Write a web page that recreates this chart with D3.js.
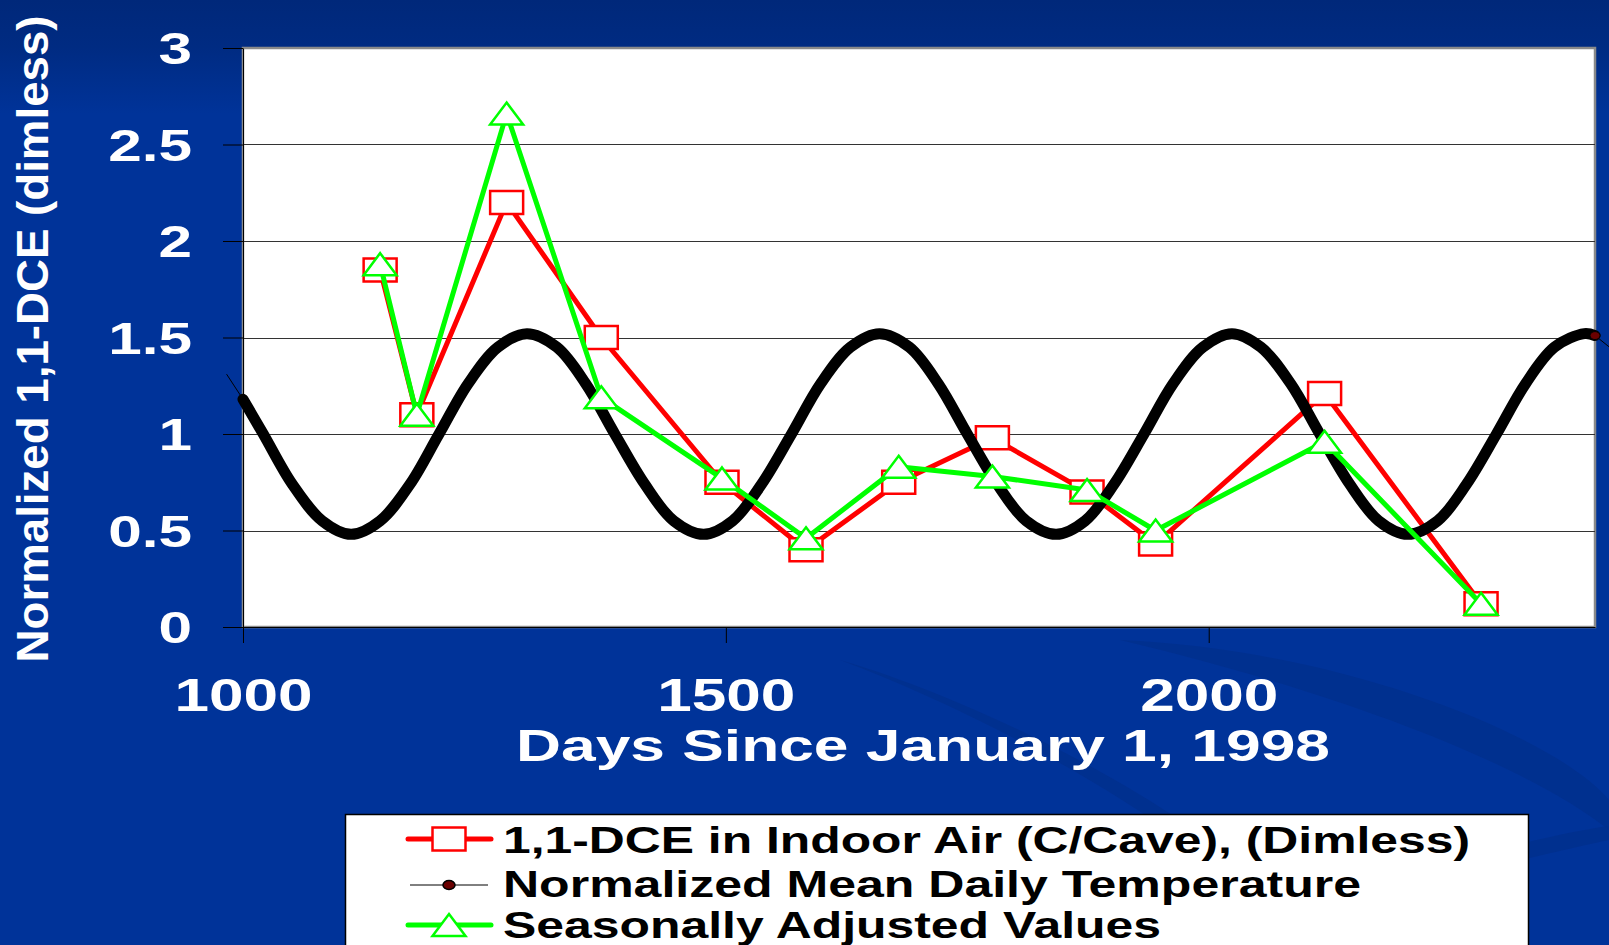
<!DOCTYPE html>
<html>
<head>
<meta charset="utf-8">
<script src="https://cdn.jsdelivr.net/npm/d3@7"></script>
<style>
  html, body { margin: 0; padding: 0; background: #003399; overflow: hidden; }
  svg { display: block; }
  text { font-family: "Liberation Sans", Arial, sans-serif; font-weight: bold; }
</style>
</head>
<body>
<svg id="canvas"></svg>
<script>
// sample days (since Jan 1, 1998)
let sampleDays = [1142, 1180, 1273, 1371, 1496, 1583, 1679, 1776, 1874, 1945, 2120, 2282]
let dceValues = [1.85, 1.10, 2.20, 1.50, 0.75, 0.40, 0.75, 0.98, 0.70, 0.43, 1.21, 0.12]
let adjustedValues = [1.88, 1.10, 2.66, 1.19, 0.77, 0.46, 0.83, 0.78, 0.71, 0.50, 0.96, 0.12]

// normalized mean daily temperature
let tempDays = [983, 1000, 1021, 1051, 1082, 1112, 1142, 1173, 1203, 1233, 1264, 1294, 1325, 1355, 1385,
  1416, 1446, 1477, 1507, 1537, 1568, 1598, 1629, 1659, 1690, 1720, 1750, 1781, 1811, 1842, 1872,
  1902, 1933, 1963, 1994, 2024, 2054, 2085, 2115, 2146, 2176, 2206, 2237, 2267, 2298, 2328, 2358,
  2389, 2400, 2430]
let tempValues = [1.31, 1.18, 1.00, 0.74, 0.55, 0.48, 0.55, 0.74, 1.00, 1.26, 1.45, 1.52, 1.45, 1.26, 1.00,
  0.74, 0.55, 0.48, 0.55, 0.74, 1.00, 1.26, 1.45, 1.52, 1.45, 1.26, 1.00, 0.74, 0.55, 0.48, 0.55,
  0.74, 1.00, 1.26, 1.45, 1.52, 1.45, 1.26, 1.00, 0.74, 0.55, 0.48, 0.55, 0.74, 1.00, 1.26, 1.45,
  1.52, 1.51, 1.39]

let xTicks = [1000, 1500, 2000]
let yTicks = [0, 0.5, 1, 1.5, 2, 2.5, 3]
let legendLabels = ["1,1-DCE in Indoor Air (C/Cave), (Dimless)", "Normalized Mean Daily Temperature", "Seasonally Adjusted Values"]

let width = 1609
let height = 945
let plotLeft = 243, plotRight = 1595, plotTop = 48, plotBottom = 627

let canvas = d3.select("#canvas").attr("width", width).attr("height", height)

let defs = canvas.append("defs")
let grad = defs.append("linearGradient").attr("id", "bg").attr("x1", 0).attr("y1", 0).attr("x2", 0).attr("y2", 1)
grad.append("stop").attr("offset", "0%").attr("stop-color", "#00287a")
grad.append("stop").attr("offset", "5%").attr("stop-color", "#002b82")
grad.append("stop").attr("offset", "12%").attr("stop-color", "#003399")
grad.append("stop").attr("offset", "100%").attr("stop-color", "#003399")

canvas.append("rect").attr("width", width).attr("height", height).attr("fill", "url(#bg)")

// faint swooshes in the background
canvas.append("path")
  .attr("d", "M1120,640 C1350,650 1560,740 1609,800 L1609,830 C1520,760 1330,690 1120,640 Z")
  .attr("fill", "#002f8c").attr("opacity", 0.8)
canvas.append("path")
  .attr("d", "M840,660 C980,700 1250,830 1310,945 L1290,945 C1220,840 1000,720 840,660 Z")
  .attr("fill", "#002f8c").attr("opacity", 0.8)
canvas.append("path")
  .attr("d", "M1460,860 C1530,840 1580,830 1609,826 L1609,840 C1580,846 1520,860 1460,875 Z")
  .attr("fill", "#002f8c").attr("opacity", 0.8)

let xScale = d3.scaleLinear().domain([1000, 2400]).range([plotLeft, plotRight])
let yScale = d3.scaleLinear().domain([0, 3]).range([plotBottom, plotTop])

// plot area
canvas.append("rect")
  .attr("x", plotLeft).attr("y", plotTop)
  .attr("width", plotRight - plotLeft).attr("height", plotBottom - plotTop)
  .attr("fill", "white").attr("stroke", "#8a8a8a").attr("stroke-width", 2.5)

// gridlines
canvas.append("g").selectAll("line")
  .data(yTicks.filter(d => d > 0 && d < 3))
  .enter().append("line")
  .attr("x1", plotLeft).attr("x2", plotRight)
  .attr("y1", d => Math.round(yScale(d)) + 0.5).attr("y2", d => Math.round(yScale(d)) + 0.5)
  .attr("stroke", "#333").attr("stroke-width", 1)

// axes
let yAxis = d3.axisLeft(yScale).tickValues(yTicks).tickSize(20).tickSizeOuter(0).tickFormat(d => String(d))
let yg = canvas.append("g").attr("transform", "translate(" + plotLeft + ",0)").call(yAxis)
yg.select(".domain").attr("stroke", "#000")
yg.selectAll(".tick line").attr("stroke", "#000")
yg.selectAll(".tick text")
  .attr("x", null).attr("dy", "0.36em")
  .attr("transform", "translate(-51,0) scale(1.37,1)")
  .attr("text-anchor", "end")
  .attr("fill", "white").attr("font-size", 44)
  .attr("font-family", "'Liberation Sans', Arial, sans-serif").attr("font-weight", "bold")

let xAxis = d3.axisBottom(xScale).tickValues(xTicks).tickSize(16).tickSizeOuter(0).tickFormat(d3.format("d"))
let xg = canvas.append("g").attr("transform", "translate(0," + plotBottom + ")").call(xAxis)
xg.select(".domain").attr("stroke", "#000")
xg.selectAll(".tick line").attr("stroke", "#000")
xg.selectAll(".tick text")
  .attr("y", null).attr("dy", null)
  .attr("transform", "translate(0,84) scale(1.35,1)")
  .attr("fill", "white").attr("font-size", 46)
  .attr("font-family", "'Liberation Sans', Arial, sans-serif").attr("font-weight", "bold")

// axis titles
canvas.append("text")
  .attr("x", 923).attr("y", 761)
  .attr("text-anchor", "middle")
  .attr("font-size", 44).attr("fill", "white")
  .attr("textLength", 814).attr("lengthAdjust", "spacingAndGlyphs")
  .text("Days Since January 1, 1998")

canvas.append("text")
  .attr("transform", "translate(48,339) rotate(-90)")
  .attr("text-anchor", "middle")
  .attr("font-size", 44).attr("fill", "white")
  .attr("textLength", 647).attr("lengthAdjust", "spacingAndGlyphs")
  .text("Normalized 1,1-DCE (dimless)")

let dceData = sampleDays.map((d, i) => ({day: d, v: dceValues[i]}))
let adjData = sampleDays.map((d, i) => ({day: d, v: adjustedValues[i]}))
let tempData = tempDays.map((d, i) => ({day: d, v: tempValues[i]}))

let line = d3.line().x(d => xScale(d.day)).y(d => yScale(d.v))
let smoothLine = d3.line().x(d => xScale(d.day)).y(d => yScale(d.v)).curve(d3.curveCatmullRom)

let squarePath = (cx, cy) => "M" + (cx - 16.5) + "," + (cy - 11.5) + "h33v23h-33Z"
let trianglePath = (cx, cy) => "M" + cx + "," + (cy - 11) + "L" + (cx + 16.5) + "," + (cy + 11) + "L" + (cx - 16.5) + "," + (cy + 11) + "Z"

// 1,1-DCE series
canvas.append("path").datum(dceData)
  .attr("d", line).attr("fill", "none")
  .attr("stroke", "#ff0000").attr("stroke-width", 5).attr("stroke-linejoin", "round")
canvas.append("g").selectAll("path").data(dceData).enter().append("path")
  .attr("d", d => squarePath(xScale(d.day), yScale(d.v)))
  .attr("fill", "white").attr("stroke", "#ff0000").attr("stroke-width", 2.5)

// temperature series: thin line plus dense markers drawn as a thick stroke
canvas.append("path").datum(tempData)
  .attr("d", line).attr("fill", "none")
  .attr("stroke", "#000").attr("stroke-width", 1)
canvas.append("path").datum(tempData.filter(d => d.day >= 1000 && d.day <= 2400))
  .attr("d", smoothLine).attr("fill", "none")
  .attr("stroke", "#000").attr("stroke-width", 11).attr("stroke-linecap", "round")
let lastTemp = tempData.find(d => d.day === 2400)
canvas.append("ellipse")
  .attr("cx", xScale(lastTemp.day)).attr("cy", yScale(lastTemp.v))
  .attr("rx", 5).attr("ry", 4)
  .attr("fill", "#6a0000").attr("stroke", "#000").attr("stroke-width", 1)

// seasonally adjusted series
canvas.append("path").datum(adjData)
  .attr("d", line).attr("fill", "none")
  .attr("stroke", "#00ff00").attr("stroke-width", 5).attr("stroke-linejoin", "round")
canvas.append("g").selectAll("path").data(adjData).enter().append("path")
  .attr("d", d => trianglePath(xScale(d.day), yScale(d.v)))
  .attr("fill", "white").attr("stroke", "#00ff00").attr("stroke-width", 2.5)

// legend
let legend = canvas.append("g")
legend.append("rect")
  .attr("x", 345.5).attr("y", 814.5).attr("width", 1183).attr("height", 200)
  .attr("fill", "white").attr("stroke", "#000").attr("stroke-width", 1.5)

let legendY = [839, 885, 925]
let legendBase = [853, 897, 938]
let legendWidths = [967, 858, 658]

legend.append("line").attr("x1", 408).attr("x2", 491).attr("y1", legendY[0]).attr("y2", legendY[0])
  .attr("stroke", "#ff0000").attr("stroke-width", 5).attr("stroke-linecap", "round")
legend.append("path").attr("d", squarePath(449, legendY[0]))
  .attr("fill", "white").attr("stroke", "#ff0000").attr("stroke-width", 2.5)

legend.append("line").attr("x1", 410).attr("x2", 488).attr("y1", legendY[1]).attr("y2", legendY[1])
  .attr("stroke", "#000").attr("stroke-width", 1)
legend.append("ellipse").attr("cx", 449).attr("cy", legendY[1]).attr("rx", 6).attr("ry", 4.5)
  .attr("fill", "#6a0000").attr("stroke", "#000").attr("stroke-width", 1.5)

legend.append("line").attr("x1", 408).attr("x2", 491).attr("y1", legendY[2]).attr("y2", legendY[2])
  .attr("stroke", "#00ff00").attr("stroke-width", 5).attr("stroke-linecap", "round")
legend.append("path").attr("d", trianglePath(449, legendY[2]))
  .attr("fill", "white").attr("stroke", "#00ff00").attr("stroke-width", 2.5)

legend.selectAll("text.lab").data(legendLabels).enter().append("text")
  .attr("class", "lab")
  .attr("x", 503).attr("y", (d, i) => legendBase[i])
  .attr("font-size", 36).attr("fill", "#000")
  .attr("textLength", (d, i) => legendWidths[i]).attr("lengthAdjust", "spacingAndGlyphs")
  .text(d => d)
</script>
</body>
</html>
